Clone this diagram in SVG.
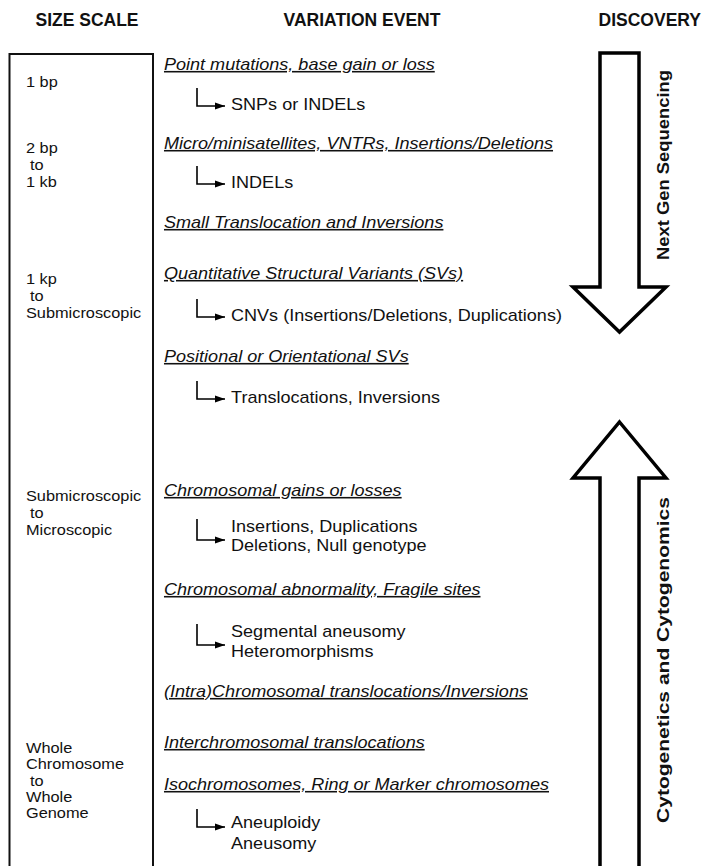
<svg xmlns="http://www.w3.org/2000/svg" width="703" height="866" viewBox="0 0 703 866">
<defs>
<style>
text{font-family:"Liberation Sans",Arial,Helvetica,sans-serif;fill:#111}
.hdr{font-size:17.5px;font-weight:bold;text-anchor:middle}
.size{font-size:14.2px}
.ev{font-size:15.7px;font-style:italic;text-decoration:underline}
.sub{font-size:15.7px}
.vt{font-size:17px;font-weight:bold;text-anchor:middle}
.box{fill:none;stroke:#111;stroke-width:2}
.big{fill:#fff;stroke:#000;stroke-width:3.5;stroke-linejoin:miter}
.conn{fill:none;stroke:#000;stroke-width:1.6}
</style>
<marker id="ah" markerUnits="userSpaceOnUse" markerWidth="11" markerHeight="8" refX="10" refY="4" orient="auto">
<path d="M0,0.5 L10,4 L0,7.5 z" fill="#000"/>
</marker>
</defs>
<rect width="703" height="866" fill="#fff"/>

<g id="hdr-size"><text class="hdr" x="87" y="26">SIZE SCALE</text></g>
<g id="hdr-variation"><text class="hdr" x="362" y="26">VARIATION EVENT</text></g>
<g id="hdr-discovery"><text class="hdr" x="701" y="26" style="text-anchor:end">DISCOVERY</text></g>

<g id="size-box"><rect class="box" x="9.5" y="54" width="143.5" height="840"/></g>
<g id="size-1bp"><text class="size" transform="scale(1.15 1)" x="22.6" y="87">1 bp</text></g>
<g id="size-2bp"><text class="size" transform="scale(1.15 1)" y="153"><tspan x="22.6">2 bp</tspan><tspan x="26.1" y="170">to</tspan><tspan x="22.6" y="187">1 kb</tspan></text></g>
<g id="size-1kp"><text class="size" transform="scale(1.15 1)" y="284"><tspan x="22.6">1 kp</tspan><tspan x="26.1" y="301">to</tspan><tspan x="22.6" y="318">Submicroscopic</tspan></text></g>
<g id="size-submicro"><text class="size" transform="scale(1.15 1)" y="501"><tspan x="22.6">Submicroscopic</tspan><tspan x="26.1" y="518">to</tspan><tspan x="22.6" y="535">Microscopic</tspan></text></g>
<g id="size-whole"><text class="size" transform="scale(1.15 1)" y="753"><tspan x="22.6">Whole</tspan><tspan x="22.6" y="769.3">Chromosome</tspan><tspan x="26.1" y="785.6">to</tspan><tspan x="22.6" y="802">Whole</tspan><tspan x="22.6" y="818.3">Genome</tspan></text></g>

<g id="ev-point"><text class="ev" transform="scale(1.15 1)" x="142.6" y="70">Point mutations, base gain or loss</text></g>
<g id="ev-snps"><text class="sub" transform="scale(1.15 1)" x="200.9" y="110">SNPs or INDELs</text></g>
<g id="ev-micro"><text class="ev" transform="scale(1.15 1)" x="142.6" y="149">Micro/minisatellites, VNTRs, Insertions/Deletions</text></g>
<g id="ev-indels"><text class="sub" transform="scale(1.15 1)" x="200.9" y="188">INDELs</text></g>
<g id="ev-small"><text class="ev" transform="scale(1.15 1)" x="142.6" y="228">Small Translocation and Inversions</text></g>
<g id="ev-quant"><text class="ev" transform="scale(1.15 1)" x="142.6" y="279">Quantitative Structural Variants (SVs)</text></g>
<g id="ev-cnvs"><text class="sub" transform="scale(1.15 1)" x="200.9" y="321">CNVs (Insertions/Deletions, Duplications)</text></g>
<g id="ev-positional"><text class="ev" transform="scale(1.15 1)" x="142.6" y="362">Positional or Orientational SVs</text></g>
<g id="ev-transl"><text class="sub" transform="scale(1.15 1)" x="200.9" y="403">Translocations, Inversions</text></g>
<g id="ev-chromgain"><text class="ev" transform="scale(1.15 1)" x="142.6" y="496">Chromosomal gains or losses</text></g>
<g id="ev-insdup"><text class="sub" transform="scale(1.15 1)" y="532"><tspan x="200.9">Insertions, Duplications</tspan><tspan x="200.9" y="551">Deletions, Null genotype</tspan></text></g>
<g id="ev-abn"><text class="ev" transform="scale(1.15 1)" x="142.6" y="595">Chromosomal abnormality, Fragile sites</text></g>
<g id="ev-segm"><text class="sub" transform="scale(1.15 1)" y="637"><tspan x="200.9">Segmental aneusomy</tspan><tspan x="200.9" y="657">Heteromorphisms</tspan></text></g>
<g id="ev-intra"><text class="ev" transform="scale(1.15 1)" x="142.6" y="697">(Intra)Chromosomal translocations/Inversions</text></g>
<g id="ev-inter"><text class="ev" transform="scale(1.15 1)" x="142.6" y="748">Interchromosomal translocations</text></g>
<g id="ev-iso"><text class="ev" transform="scale(1.15 1)" x="142.6" y="790">Isochromosomes, Ring or Marker chromosomes</text></g>
<g id="ev-aneu"><text class="sub" transform="scale(1.15 1)" y="828"><tspan x="200.9">Aneuploidy</tspan><tspan x="200.9" y="849">Aneusomy</tspan></text></g>

<g id="disc-ngs">
<polygon class="big" points="600,53 639,53 639,287 666,287 619.5,332 573,287 600,287"/>
<text class="vt" transform="translate(669,165) rotate(-90)" textLength="190" lengthAdjust="spacingAndGlyphs">Next Gen Sequencing</text>
</g>
<g id="disc-cyto">
<polygon class="big" points="619.5,422 666,478 639,478 639,890 600,890 600,478 573,478"/>
<text class="vt" transform="translate(669,660) rotate(-90)" textLength="326" lengthAdjust="spacingAndGlyphs">Cytogenetics and Cytogenomics</text>
</g>

<g id="connectors">
<polyline class="conn" marker-end="url(#ah)" points="197,88 197,106 225,106"/>
<polyline class="conn" marker-end="url(#ah)" points="197,166 197,184 225,184"/>
<polyline class="conn" marker-end="url(#ah)" points="197,299 197,317 225,317"/>
<polyline class="conn" marker-end="url(#ah)" points="197,381 197,399 225,399"/>
<polyline class="conn" marker-end="url(#ah)" points="197,519 197,540 225,540"/>
<polyline class="conn" marker-end="url(#ah)" points="197,624 197,645 225,645"/>
<polyline class="conn" marker-end="url(#ah)" points="197,809 197,827 225,827"/>
</g>
</svg>
